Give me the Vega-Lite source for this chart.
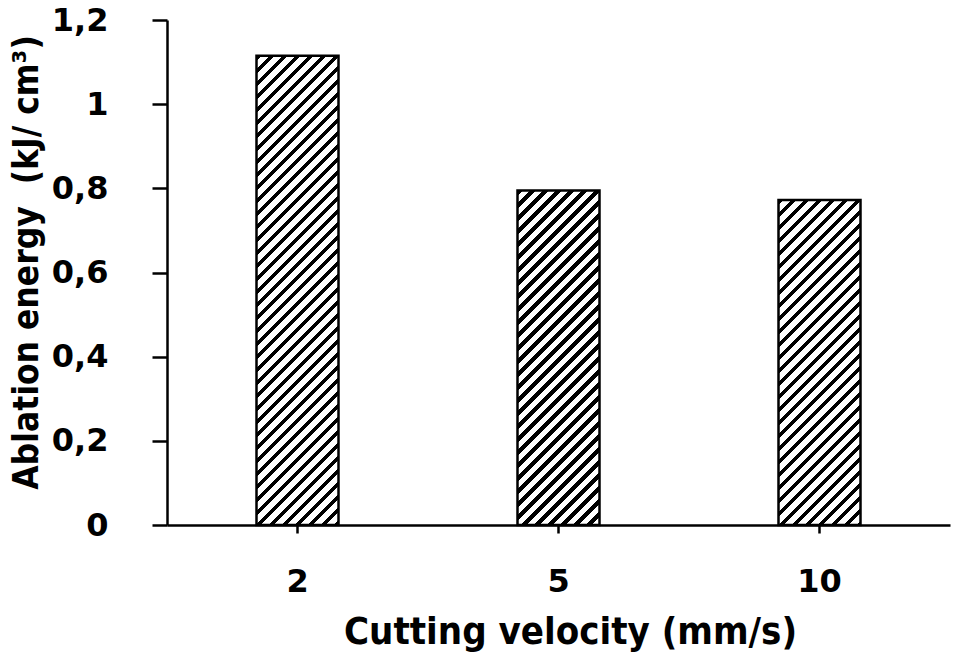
{
  "$schema": "https://vega.github.io/schema/vega-lite/v6.json",
  "width": 783,
  "height": 505,
  "autosize": "none",
  "padding": {"left": 167, "top": 20, "right": 7, "bottom": 132},
  "background": "white",
  "params": [
    {
      "name": "hatch",
      "value": [
        {"offset":0,"color":"#000"},{"offset":0.008,"color":"#000"},{"offset":0.008,"color":"#fff"},{"offset":0.02,"color":"#fff"},
        {"offset":0.02,"color":"#000"},{"offset":0.028,"color":"#000"},{"offset":0.028,"color":"#fff"},{"offset":0.04,"color":"#fff"},
        {"offset":0.04,"color":"#000"},{"offset":0.048,"color":"#000"},{"offset":0.048,"color":"#fff"},{"offset":0.06,"color":"#fff"},
        {"offset":0.06,"color":"#000"},{"offset":0.068,"color":"#000"},{"offset":0.068,"color":"#fff"},{"offset":0.08,"color":"#fff"},
        {"offset":0.08,"color":"#000"},{"offset":0.088,"color":"#000"},{"offset":0.088,"color":"#fff"},{"offset":0.1,"color":"#fff"},
        {"offset":0.1,"color":"#000"},{"offset":0.108,"color":"#000"},{"offset":0.108,"color":"#fff"},{"offset":0.12,"color":"#fff"},
        {"offset":0.12,"color":"#000"},{"offset":0.128,"color":"#000"},{"offset":0.128,"color":"#fff"},{"offset":0.14,"color":"#fff"},
        {"offset":0.14,"color":"#000"},{"offset":0.148,"color":"#000"},{"offset":0.148,"color":"#fff"},{"offset":0.16,"color":"#fff"},
        {"offset":0.16,"color":"#000"},{"offset":0.168,"color":"#000"},{"offset":0.168,"color":"#fff"},{"offset":0.18,"color":"#fff"},
        {"offset":0.18,"color":"#000"},{"offset":0.188,"color":"#000"},{"offset":0.188,"color":"#fff"},{"offset":0.2,"color":"#fff"},
        {"offset":0.2,"color":"#000"},{"offset":0.208,"color":"#000"},{"offset":0.208,"color":"#fff"},{"offset":0.22,"color":"#fff"},
        {"offset":0.22,"color":"#000"},{"offset":0.228,"color":"#000"},{"offset":0.228,"color":"#fff"},{"offset":0.24,"color":"#fff"},
        {"offset":0.24,"color":"#000"},{"offset":0.248,"color":"#000"},{"offset":0.248,"color":"#fff"},{"offset":0.26,"color":"#fff"},
        {"offset":0.26,"color":"#000"},{"offset":0.268,"color":"#000"},{"offset":0.268,"color":"#fff"},{"offset":0.28,"color":"#fff"},
        {"offset":0.28,"color":"#000"},{"offset":0.288,"color":"#000"},{"offset":0.288,"color":"#fff"},{"offset":0.3,"color":"#fff"},
        {"offset":0.3,"color":"#000"},{"offset":0.308,"color":"#000"},{"offset":0.308,"color":"#fff"},{"offset":0.32,"color":"#fff"},
        {"offset":0.32,"color":"#000"},{"offset":0.328,"color":"#000"},{"offset":0.328,"color":"#fff"},{"offset":0.34,"color":"#fff"},
        {"offset":0.34,"color":"#000"},{"offset":0.348,"color":"#000"},{"offset":0.348,"color":"#fff"},{"offset":0.36,"color":"#fff"},
        {"offset":0.36,"color":"#000"},{"offset":0.368,"color":"#000"},{"offset":0.368,"color":"#fff"},{"offset":0.38,"color":"#fff"},
        {"offset":0.38,"color":"#000"},{"offset":0.388,"color":"#000"},{"offset":0.388,"color":"#fff"},{"offset":0.4,"color":"#fff"},
        {"offset":0.4,"color":"#000"},{"offset":0.408,"color":"#000"},{"offset":0.408,"color":"#fff"},{"offset":0.42,"color":"#fff"},
        {"offset":0.42,"color":"#000"},{"offset":0.428,"color":"#000"},{"offset":0.428,"color":"#fff"},{"offset":0.44,"color":"#fff"},
        {"offset":0.44,"color":"#000"},{"offset":0.448,"color":"#000"},{"offset":0.448,"color":"#fff"},{"offset":0.46,"color":"#fff"},
        {"offset":0.46,"color":"#000"},{"offset":0.468,"color":"#000"},{"offset":0.468,"color":"#fff"},{"offset":0.48,"color":"#fff"},
        {"offset":0.48,"color":"#000"},{"offset":0.488,"color":"#000"},{"offset":0.488,"color":"#fff"},{"offset":0.5,"color":"#fff"},
        {"offset":0.5,"color":"#000"},{"offset":0.508,"color":"#000"},{"offset":0.508,"color":"#fff"},{"offset":0.52,"color":"#fff"},
        {"offset":0.52,"color":"#000"},{"offset":0.528,"color":"#000"},{"offset":0.528,"color":"#fff"},{"offset":0.54,"color":"#fff"},
        {"offset":0.54,"color":"#000"},{"offset":0.548,"color":"#000"},{"offset":0.548,"color":"#fff"},{"offset":0.56,"color":"#fff"},
        {"offset":0.56,"color":"#000"},{"offset":0.568,"color":"#000"},{"offset":0.568,"color":"#fff"},{"offset":0.58,"color":"#fff"},
        {"offset":0.58,"color":"#000"},{"offset":0.588,"color":"#000"},{"offset":0.588,"color":"#fff"},{"offset":0.6,"color":"#fff"},
        {"offset":0.6,"color":"#000"},{"offset":0.608,"color":"#000"},{"offset":0.608,"color":"#fff"},{"offset":0.62,"color":"#fff"},
        {"offset":0.62,"color":"#000"},{"offset":0.628,"color":"#000"},{"offset":0.628,"color":"#fff"},{"offset":0.64,"color":"#fff"},
        {"offset":0.64,"color":"#000"},{"offset":0.648,"color":"#000"},{"offset":0.648,"color":"#fff"},{"offset":0.66,"color":"#fff"},
        {"offset":0.66,"color":"#000"},{"offset":0.668,"color":"#000"},{"offset":0.668,"color":"#fff"},{"offset":0.68,"color":"#fff"},
        {"offset":0.68,"color":"#000"},{"offset":0.688,"color":"#000"},{"offset":0.688,"color":"#fff"},{"offset":0.7,"color":"#fff"},
        {"offset":0.7,"color":"#000"},{"offset":0.708,"color":"#000"},{"offset":0.708,"color":"#fff"},{"offset":0.72,"color":"#fff"},
        {"offset":0.72,"color":"#000"},{"offset":0.728,"color":"#000"},{"offset":0.728,"color":"#fff"},{"offset":0.74,"color":"#fff"},
        {"offset":0.74,"color":"#000"},{"offset":0.748,"color":"#000"},{"offset":0.748,"color":"#fff"},{"offset":0.76,"color":"#fff"},
        {"offset":0.76,"color":"#000"},{"offset":0.768,"color":"#000"},{"offset":0.768,"color":"#fff"},{"offset":0.78,"color":"#fff"},
        {"offset":0.78,"color":"#000"},{"offset":0.788,"color":"#000"},{"offset":0.788,"color":"#fff"},{"offset":0.8,"color":"#fff"},
        {"offset":0.8,"color":"#000"},{"offset":0.808,"color":"#000"},{"offset":0.808,"color":"#fff"},{"offset":0.82,"color":"#fff"},
        {"offset":0.82,"color":"#000"},{"offset":0.828,"color":"#000"},{"offset":0.828,"color":"#fff"},{"offset":0.84,"color":"#fff"},
        {"offset":0.84,"color":"#000"},{"offset":0.848,"color":"#000"},{"offset":0.848,"color":"#fff"},{"offset":0.86,"color":"#fff"}
      ]
    }
  ],
  "data": {
    "values": [
      {"velocity": "2", "energy": 1.115},
      {"velocity": "5", "energy": 0.795},
      {"velocity": "10", "energy": 0.772}
    ]
  },
  "mark": {"type": "bar", "width": 82, "stroke": "black", "strokeWidth": 2.5},
  "encoding": {
    "x": {
      "field": "velocity",
      "type": "nominal",
      "sort": null,
      "scale": {"paddingInner": 0, "paddingOuter": 0},
      "axis": {
        "title": "Cutting velocity (mm/s)",
        "labelAngle": 0,
        "tickSize": 8,
        "labelPadding": 58,
        "labelBaseline": "alphabetic",
        "titleX": 403,
        "titleY": 118,
        "titleAlign": "center",
        "titleBaseline": "alphabetic",
        "titleFontSize": 38,
        "titleFont": "DejaVu Sans Condensed, Liberation Sans Narrow, sans-serif"
      }
    },
    "y": {
      "field": "energy",
      "type": "quantitative",
      "scale": {"domain": [0, 1.2], "nice": false},
      "axis": {
        "title": "Ablation energy\u00a0 (kJ/ cm³)",
        "values": [0, 0.2, 0.4, 0.6, 0.8, 1, 1.2],
        "labelExpr": "replace(format(datum.value, '~g'), '.', ',')",
        "tickSize": 15,
        "labelPadding": 44,
        "grid": false,
        "titleX": -141,
        "titleY": 242,
        "titleAlign": "center",
        "titleBaseline": "middle",
        "titleFontSize": 35,
        "titleFont": "DejaVu Sans Condensed, Liberation Sans Narrow, sans-serif"
      }
    },
    "fill": {
      "value": {
        "expr": "datum.velocity === '2' ? {gradient: 'linear', x1: 0, y1: 0, x2: 0.2349, y2: 1.3442, stops: hatch} : datum.velocity === '5' ? {gradient: 'linear', x1: 0, y1: 0, x2: 0.4492, y2: 1.8328, stops: hatch} : {gradient: 'linear', x1: 0, y1: 0, x2: 0.4748, y2: 1.8809, stops: hatch}"
      }
    }
  },
  "config": {
    "view": {"stroke": null},
    "axis": {
      "domainColor": "black",
      "domainWidth": 2.5,
      "tickColor": "black",
      "tickWidth": 2.5,
      "labelColor": "black",
      "labelFont": "DejaVu Sans",
      "labelFontSize": 32,
      "labelFontWeight": "bold",
      "titleColor": "black",
      "titleFontWeight": "bold"
    }
  }
}
